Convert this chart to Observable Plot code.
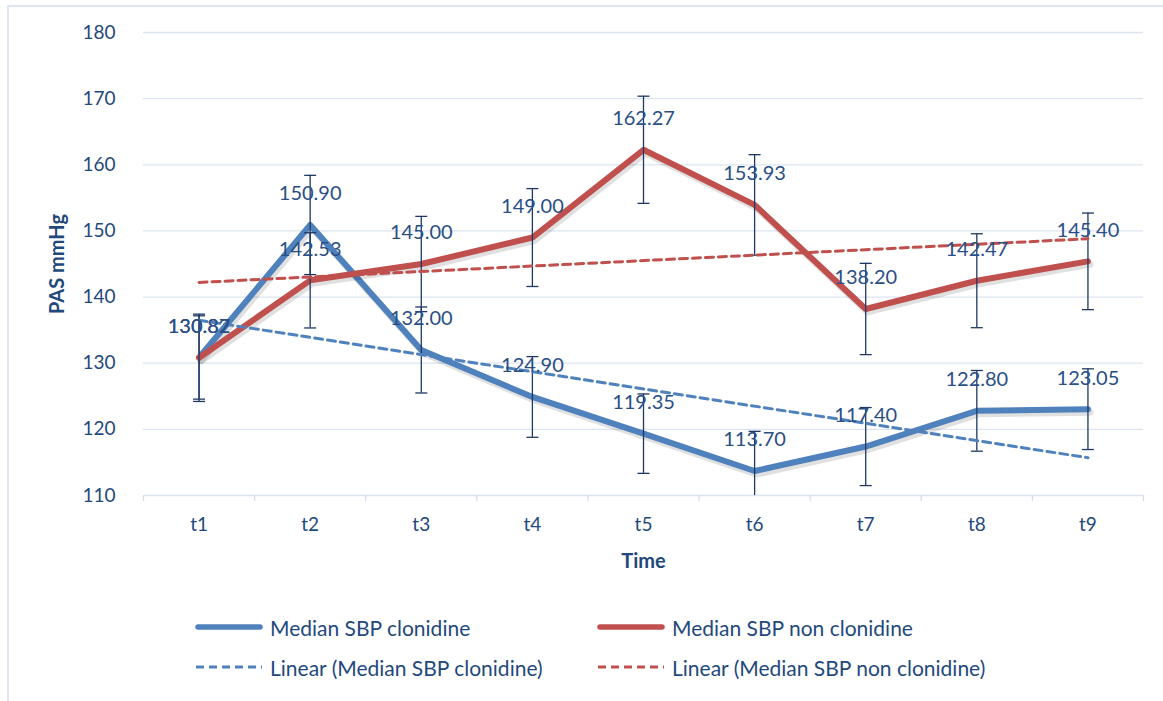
<!DOCTYPE html>
<html>
<head>
<meta charset="utf-8">
<script src="https://cdn.jsdelivr.net/npm/d3@7"></script>
<script src="https://cdn.jsdelivr.net/npm/@observablehq/plot@0.6"></script>
<style>
  html, body { margin: 0; padding: 0; background: #fff; }
  body { width: 1163px; height: 701px; position: relative; overflow: hidden; font-family: Lato, "Open Sans", sans-serif; }
  #frame { position: absolute; left: 7px; top: 5px; width: 1300px; height: 900px; border-left: 2px solid #dfe6f1; border-top: 2px solid #dfe6f1; box-sizing: border-box; }
  #chart { position: absolute; left: 0; top: 0; }
  .leg { position: absolute; display: flex; align-items: center; height: 24px; color: #1f497d; font-size: 21px; white-space: nowrap; }
  .leg svg { margin-right: 7px; }
</style>
</head>
<body>
<div id="frame"></div>
<div id="chart"></div>
<div id="legend"></div>
<script>
// ---- data ----
const timeLabels = ["t1", "t2", "t3", "t4", "t5", "t6", "t7", "t8", "t9"];
const clonidine = [130.87, 150.90, 132.00, 124.90, 119.35, 113.70, 117.40, 122.80, 123.05];
const nonClonidine = [130.82, 142.53, 145.00, 149.00, 162.27, 153.93, 138.20, 142.47, 145.40];
const clonidineErr = [6.3, 7.5, 6.5, 6.1, 6.0, 6.0, 5.9, 6.1, 6.1];
const nonClonidineErr = [6.6, 7.2, 7.2, 7.4, 8.1, 7.6, 6.9, 7.1, 7.3];
const yTicks = [110, 120, 130, 140, 150, 160, 170, 180];
const seriesNames = ["Median SBP clonidine", "Median SBP non clonidine"];
const trendNames = ["Linear (Median SBP clonidine)", "Linear (Median SBP non clonidine)"];
const yTitle = "PAS mmHg";
const xTitle = "Time";

const BLUE = "#4f81bd", RED = "#c0504d", NAVY = "#1f3864", TEXT = "#1f497d", GRID = "#dbe4f1";

const mk = (vals, errs, s) => timeLabels.map((t, k) => ({ i: k + 1, t, v: vals[k], e: errs[k], s }));
const clonRows = mk(clonidine, clonidineErr, seriesNames[0]);
const nonRows = mk(nonClonidine, nonClonidineErr, seriesNames[1]);
const allRows = clonRows.concat(nonRows);
const idx = clonRows.map(d => d.i);
const bounds = [0, ...idx].map(i => i + 0.5);

const cap = { draw(ctx, size) { const w = Math.sqrt(size / Math.PI); ctx.moveTo(-w, 0); ctx.lineTo(w, 0); } };

const errMarks = rows => [
  Plot.ruleX(rows, { x: "i", y1: d => d.v - d.e, y2: d => d.v + d.e, stroke: NAVY, strokeWidth: 1.3, clip: true }),
  Plot.dot(rows, { x: "i", y: d => d.v + d.e, symbol: cap, r: 6, fill: "none", stroke: NAVY, strokeWidth: 1.3, clip: true }),
  Plot.dot(rows, { x: "i", y: d => d.v - d.e, symbol: cap, r: 6, fill: "none", stroke: NAVY, strokeWidth: 1.3, clip: true })
];

const seriesMarks = (rows, color) => [
  Plot.line(rows, { x: "i", y: "v", stroke: "#000", strokeOpacity: 0.12, strokeWidth: 7, dx: 2, dy: 3, strokeLinejoin: "round", strokeLinecap: "round" }),
  Plot.line(rows, { x: "i", y: "v", stroke: color, strokeWidth: 6, strokeLinejoin: "round", strokeLinecap: "round" })
];

const chart = Plot.plot({
  width: 1163,
  height: 600,
  marginLeft: 143,
  marginRight: 20,
  marginTop: 32,
  marginBottom: 105,
  style: { fontFamily: "Lato, 'Open Sans', sans-serif", color: TEXT, background: "transparent", overflow: "visible" },
  x: { type: "linear", domain: [0.5, 9.5] },
  y: { type: "linear", domain: [110, 180] },
  marks: [
    Plot.gridY(yTicks, { stroke: GRID, strokeOpacity: 1, strokeWidth: 1.3 }),
    Plot.axisX(bounds, { tickSize: 6, tickFormat: () => "", stroke: "#d3ddec", strokeWidth: 1.3, label: null }),
    Plot.axisX(idx, { tickSize: 0, tickPadding: 22, tickFormat: i => timeLabels[i - 1], fontSize: 19, fill: TEXT, label: null }),
    Plot.axisY(yTicks, { tickSize: 0, tickPadding: 28, fontSize: 19, fill: TEXT, label: null }),
    Plot.text([yTitle], { frameAnchor: "left", textAnchor: "middle", rotate: -90, dx: -86, dy: 0, fontSize: 20, fontWeight: "bold", fill: TEXT }),
    Plot.text([xTitle], { frameAnchor: "bottom", dy: 72, fontSize: 20, fontWeight: "bold", fill: TEXT }),
    ...seriesMarks(clonRows, BLUE),
    ...errMarks(clonRows),
    ...seriesMarks(nonRows, RED),
    ...errMarks(nonRows),
    Plot.linearRegressionY(clonRows, { x: "i", y: "v", stroke: BLUE, strokeWidth: 3, strokeDasharray: "8,5", ci: 0 }),
    Plot.linearRegressionY(nonRows, { x: "i", y: "v", stroke: RED, strokeWidth: 3, strokeDasharray: "8,5", ci: 0 }),
    Plot.text(allRows, { x: "i", y: "v", text: d => d.v.toFixed(2), dy: -31, fontSize: 20, fill: "#2a4f86" })
  ]
});
document.getElementById("chart").appendChild(chart);

// ---- legend ----
const legendItems = [
  { label: seriesNames[0], color: BLUE, dashed: false, left: 195, top: 615 },
  { label: seriesNames[1], color: RED, dashed: false, left: 597, top: 615 },
  { label: trendNames[0], color: BLUE, dashed: true, left: 195, top: 655 },
  { label: trendNames[1], color: RED, dashed: true, left: 597, top: 655 }
];
const legend = document.getElementById("legend");
for (const it of legendItems) {
  const div = document.createElement("div");
  div.className = "leg";
  div.style.left = it.left + "px";
  div.style.top = it.top + "px";
  const sw = it.dashed
    ? `<svg width="68" height="12"><line x1="1" y1="6" x2="67" y2="6" stroke="${it.color}" stroke-width="3" stroke-dasharray="8,5"/></svg>`
    : `<svg width="68" height="12"><line x1="3" y1="6" x2="65" y2="6" stroke="${it.color}" stroke-width="5.5" stroke-linecap="round"/></svg>`;
  div.innerHTML = sw + `<span>${it.label}</span>`;
  legend.appendChild(div);
}
</script>
</body>
</html>
